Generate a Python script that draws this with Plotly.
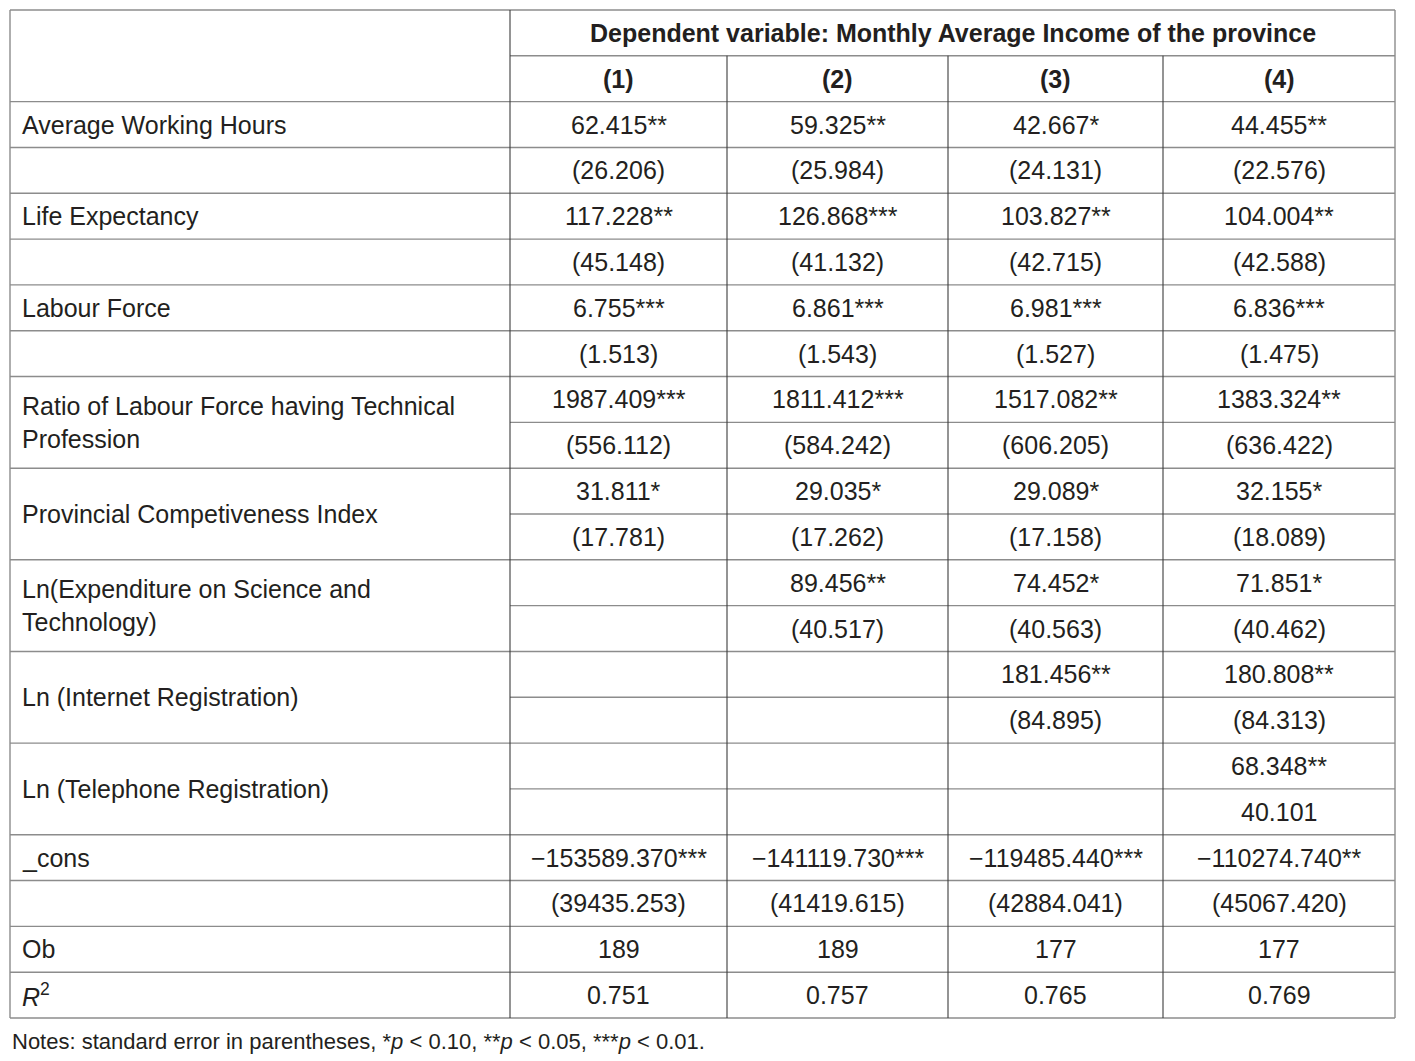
import plotly.graph_objects as go

# ---------------- data ----------------
header_title = "Dependent variable: Monthly Average Income of the province"
model_labels = ["(1)", "(2)", "(3)", "(4)"]

variables = [
    "Average Working Hours",
    "Life Expectancy",
    "Labour Force",
    "Ratio of Labour Force having Technical<br>Profession",
    "Provincial Competiveness Index",
    "Ln(Expenditure on Science and<br>Technology)",
    "Ln (Internet Registration)",
    "Ln (Telephone Registration)",
    "_cons",
]
# whether label cell is merged across coef + se rows
merged = [False, False, False, True, True, True, True, True, False]

coef = [
    ["62.415**", "59.325**", "42.667*", "44.455**"],
    ["117.228**", "126.868***", "103.827**", "104.004**"],
    ["6.755***", "6.861***", "6.981***", "6.836***"],
    ["1987.409***", "1811.412***", "1517.082**", "1383.324**"],
    ["31.811*", "29.035*", "29.089*", "32.155*"],
    ["", "89.456**", "74.452*", "71.851*"],
    ["", "", "181.456**", "180.808**"],
    ["", "", "", "68.348**"],
    ["\u2212153589.370***", "\u2212141119.730***", "\u2212119485.440***", "\u2212110274.740**"],
]
se = [
    ["(26.206)", "(25.984)", "(24.131)", "(22.576)"],
    ["(45.148)", "(41.132)", "(42.715)", "(42.588)"],
    ["(1.513)", "(1.543)", "(1.527)", "(1.475)"],
    ["(556.112)", "(584.242)", "(606.205)", "(636.422)"],
    ["(17.781)", "(17.262)", "(17.158)", "(18.089)"],
    ["", "(40.517)", "(40.563)", "(40.462)"],
    ["", "", "(84.895)", "(84.313)"],
    ["", "", "", "40.101"],
    ["(39435.253)", "(41419.615)", "(42884.041)", "(45067.420)"],
]
obs = ["189", "189", "177", "177"]
r2 = ["0.751", "0.757", "0.765", "0.769"]
notes = "Notes: standard error in parentheses, *<i>p</i> < 0.10, **<i>p</i> < 0.05, ***<i>p</i> < 0.01."

# ---------------- layout grid ----------------
W, H = 1415, 1061
col_edges = [10, 510, 727, 948, 1163, 1395]
top, bottom = 10, 1018
n_rows = 2 + 2 * len(variables) + 2
rh = (bottom - top) / n_rows
def ry(i):
    return top + i * rh

FONT = "Liberation Sans, Arial, sans-serif"
FS = 25
TXT = "#231f20"
HCOL = "#8c8c8c"
VCOL = "#3c3c3c"

fig = go.Figure()
fig.add_trace(go.Scatter(x=[0, W], y=[0, H], mode="markers",
                         marker=dict(opacity=0), hoverinfo="skip", showlegend=False))

shapes = []
annots = []

def hline(y, x0, x1, color=HCOL, w=1.4):
    shapes.append(dict(type="line", x0=x0, x1=x1, y0=y, y1=y, xref="x", yref="y",
                       line=dict(color=color, width=w)))

def vline(x, y0, y1, color=VCOL, w=1.1):
    shapes.append(dict(type="line", x0=x, x1=x, y0=y0, y1=y1, xref="x", yref="y",
                       line=dict(color=color, width=w)))

def text(x, y, s, anchor="center", bold=False, size=FS):
    annots.append(dict(x=x, y=y, xref="x", yref="y", text=("<b>%s</b>" % s) if bold else s,
                       showarrow=False, xanchor=anchor, yanchor="middle", align="left",
                       font=dict(family=FONT, size=size, color=TXT)))

centers = [(col_edges[k] + col_edges[k + 1]) / 2 for k in range(1, 5)]
label_x = col_edges[0] + 10

# header
text((col_edges[1] + col_edges[5]) / 2, (ry(0) + ry(1)) / 2, header_title, bold=True, size=FS)
for k, m in enumerate(model_labels):
    text(centers[k], (ry(1) + ry(2)) / 2, m, bold=True, size=FS)

# horizontal lines
hline(ry(0), col_edges[0], col_edges[5])
hline(ry(1), col_edges[1], col_edges[5])
hline(ry(2), col_edges[0], col_edges[5])

row = 2
for v, lab in enumerate(variables):
    r_coef, r_se = row, row + 1
    if merged[v]:
        text(label_x, (ry(r_coef) + ry(r_se + 1)) / 2, lab, anchor="left")
        hline(ry(r_se), col_edges[1], col_edges[5])
    else:
        text(label_x, (ry(r_coef) + ry(r_se)) / 2, lab, anchor="left")
        hline(ry(r_se), col_edges[0], col_edges[5])
    hline(ry(r_se + 1), col_edges[0], col_edges[5])
    for k in range(4):
        if coef[v][k]:
            text(centers[k], (ry(r_coef) + ry(r_se)) / 2, coef[v][k])
        if se[v][k]:
            text(centers[k], (ry(r_se) + ry(r_se + 1)) / 2, se[v][k])
    row += 2

# Ob and R2
text(label_x, (ry(row) + ry(row + 1)) / 2, "Ob", anchor="left")
for k in range(4):
    text(centers[k], (ry(row) + ry(row + 1)) / 2, obs[k])
hline(ry(row + 1), col_edges[0], col_edges[5])
row += 1
text(label_x, (ry(row) + ry(row + 1)) / 2, "<i>R</i><sup>2</sup>", anchor="left")
for k in range(4):
    text(centers[k], (ry(row) + ry(row + 1)) / 2, r2[k])
hline(ry(row + 1), col_edges[0], col_edges[5])

# vertical lines
vline(col_edges[0], ry(0), ry(n_rows), color=HCOL, w=1.4)
vline(col_edges[5], ry(0), ry(n_rows), color=HCOL, w=1.4)
vline(col_edges[1], ry(0), ry(n_rows))
for k in range(2, 5):
    vline(col_edges[k], ry(1), ry(n_rows))

# notes
text(col_edges[0], ry(n_rows) + 23, notes, anchor="left", size=22)

fig.update_layout(
    width=W, height=H, margin=dict(l=0, r=0, t=0, b=0),
    paper_bgcolor="white", plot_bgcolor="white",
    xaxis=dict(range=[0, W], visible=False, fixedrange=True),
    yaxis=dict(range=[H, 0], visible=False, fixedrange=True),
    shapes=shapes, annotations=annots, showlegend=False,
)
fig.write_html("out.html", config={"displayModeBar": False},
               post_script="document.body.style.margin='0';document.body.style.overflow='hidden';")
